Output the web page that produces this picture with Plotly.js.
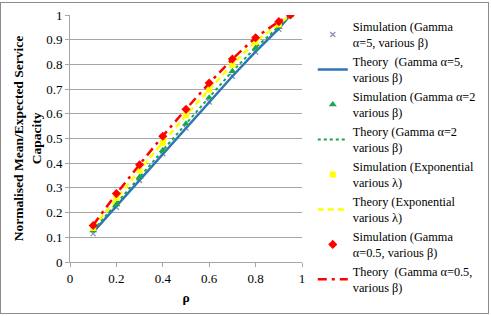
<!DOCTYPE html>
<html>
<head>
<meta charset="utf-8">
<script src="https://cdn.plot.ly/plotly-3.0.1.min.js"></script>
<style>
  html, body { margin: 0; padding: 0; background: #fff; }
  #frame { position: absolute; left: 0; top: 2px; width: 487px; height: 310px; border: 1px solid #8c8c8c; }
  #chart { position: absolute; left: 0; top: 0; width: 491px; height: 316px; }
</style>
</head>
<body>
<div id="frame"></div>
<div id="chart"></div>
<script>
// Load factor rho
const rho = [0.1, 0.2, 0.3, 0.4, 0.5, 0.6, 0.7, 0.8, 0.9, 0.95];

// Normalised mean / expected service capacity
const simGamma5   = [0.115, 0.222, 0.330, 0.438, 0.542, 0.648, 0.752, 0.850, 0.942, 1.0];
const thGamma5    = [0.121, 0.226, 0.332, 0.438, 0.543, 0.648, 0.752, 0.852, 0.945, 1.0];
const simGamma2   = [0.128, 0.233, 0.344, 0.452, 0.560, 0.665, 0.772, 0.866, 0.951, 1.0];
const thGamma2    = [0.129, 0.237, 0.346, 0.454, 0.562, 0.667, 0.772, 0.868, 0.953, 1.0];
const simExp      = [0.138, 0.260, 0.371, 0.482, 0.594, 0.698, 0.799, 0.891, 0.962, 1.0];
const thExp       = [0.140, 0.258, 0.372, 0.484, 0.594, 0.699, 0.800, 0.892, 0.963, 1.0];
const simGamma05  = [0.148, 0.277, 0.394, 0.509, 0.618, 0.725, 0.822, 0.908, 0.973, 1.0];
const thGamma05   = [0.150, 0.276, 0.395, 0.510, 0.619, 0.724, 0.822, 0.909, 0.974, 1.0];

const names = [
  'Simulation (Gamma<br>α=5, various β)',
  'Theory  (Gamma α=5,<br>various β)',
  'Simulation (Gamma α=2<br>various β)',
  'Theory (Gamma α=2<br>various β)',
  'Simulation (Exponential<br>various λ)',
  'Theory (Exponential<br>various λ)',
  'Simulation (Gamma<br>α=0.5, various β)',
  'Theory  (Gamma α=0.5,<br>various β)'
];
const xTicks = [0, 0.2, 0.4, 0.6, 0.8, 1];
const xTickText = ['0', '0.2', '0.4', '0.6', '0.8', '1'];
const yTicks = [0, 0.1, 0.2, 0.3, 0.4, 0.5, 0.6, 0.7, 0.8, 0.9, 1];
const yTickText = ['0', '0.1', '0.2', '0.3', '0.4', '0.5', '0.6', '0.7', '0.8', '0.9', '1'];

const traces = [
  { x: rho, y: simGamma5, name: names[0], mode: 'markers',
    marker: { symbol: 'x-thin', size: 5, line: { color: '#8a8fb8', width: 1.3 }, color: '#8a8fb8' } },
  { x: rho, y: thGamma5, name: names[1], mode: 'lines',
    line: { color: '#2e75b6', width: 2.5 } },
  { x: rho, y: simGamma2, name: names[2], mode: 'markers',
    marker: { symbol: 'triangle-up', size: 7, color: '#1aa550' } },
  { x: rho, y: thGamma2, name: names[3], mode: 'lines',
    line: { color: '#1aa550', width: 2, dash: 'dot' } },
  { x: rho, y: simExp, name: names[4], mode: 'markers',
    marker: { symbol: 'square', size: 6, color: '#ffff00' } },
  { x: rho, y: thExp, name: names[5], mode: 'lines',
    line: { color: '#ffff00', width: 2.5, dash: '6px,4px' } },
  { x: rho, y: simGamma05, name: names[6], mode: 'markers',
    marker: { symbol: 'diamond', size: 7, color: '#ff0000' } },
  { x: rho, y: thGamma05, name: names[7], mode: 'lines',
    line: { color: '#ff0000', width: 2.5, dash: '9px,5px,3px,5px' } }
];

const serif = 'Liberation Serif';
const layout = {
  width: 491, height: 316,
  margin: { l: 70, r: 189, t: 15, b: 54, autoexpand: false },
  paper_bgcolor: 'rgba(0,0,0,0)',
  plot_bgcolor: '#ffffff',
  font: { family: serif, size: 12, color: '#000' },
  showlegend: true,
  legend: {
    xref: 'container', yref: 'container',
    x: 0.637, xanchor: 'left', y: 0.962, yanchor: 'top',
    maxheight: 1,
    font: { family: serif, size: 12.3, color: '#000' },
    tracegroupgap: 0, itemwidth: 30,
    bgcolor: 'rgba(0,0,0,0)'
  },
  xaxis: {
    range: [0, 1], tickvals: xTicks, ticktext: xTickText,
    showgrid: false, zeroline: false,
    showline: true, linecolor: '#a6a6a6', linewidth: 1,
    ticks: 'outside', ticklen: 4, tickcolor: '#a6a6a6',
    tickfont: { family: serif, size: 13 },
    title: { text: '<b>ρ</b>', font: { family: serif, size: 13.5 }, standoff: 7 }
  },
  yaxis: {
    range: [0, 1], tickvals: yTicks, ticktext: yTickText,
    showgrid: true, gridcolor: '#a6a6a6', gridwidth: 1, zeroline: false,
    showline: true, linecolor: '#a6a6a6', linewidth: 1,
    ticks: 'outside', ticklen: 4, tickcolor: '#a6a6a6',
    tickfont: { family: serif, size: 13 },
    title: { text: '<b>Normalised Mean/Expected Service<br>Capacity</b>', font: { family: serif, size: 13.5 }, standoff: 1 }
  }
};

Plotly.newPlot('chart', traces, layout, { displayModeBar: false, staticPlot: true });
</script>
</body>
</html>
